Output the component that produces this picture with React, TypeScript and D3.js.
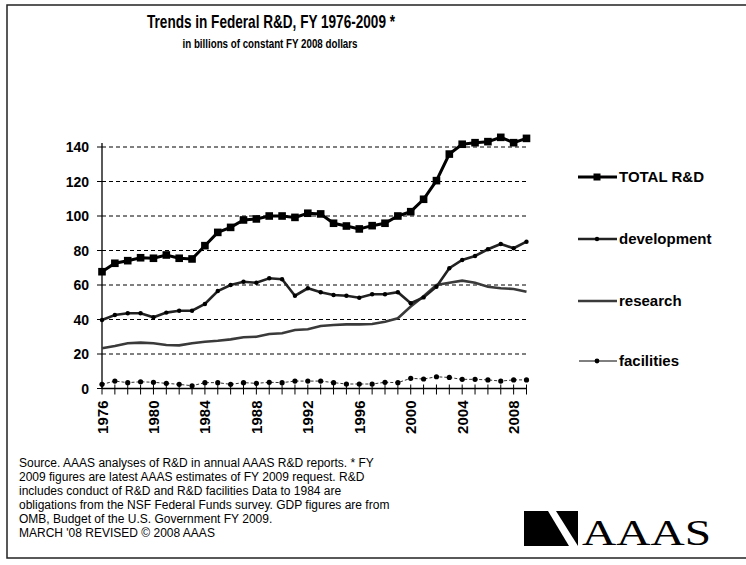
import * as d3 from "d3";

const years = [1976, 1977, 1978, 1979, 1980, 1981, 1982, 1983, 1984, 1985, 1986, 1987, 1988, 1989, 1990, 1991, 1992, 1993, 1994, 1995, 1996, 1997, 1998, 1999, 2000, 2001, 2002, 2003, 2004, 2005, 2006, 2007, 2008, 2009];

const totalRD = [67.7, 72.6, 74.1, 75.8, 75.5, 77.4, 75.5, 75.1, 82.8, 90.5, 93.4, 97.7, 98.3, 100, 100, 99.2, 101.6, 101.2, 95.8, 94.2, 92.5, 94.4, 95.8, 100, 102.5, 109.7, 120.5, 135.9, 141.6, 142.5, 143.1, 145.6, 142.5, 145];
const development = [39.7, 42.6, 43.6, 43.6, 41.3, 44, 45.1, 45.1, 49, 56.5, 60, 61.9, 61.3, 63.9, 63.3, 53.8, 58.1, 55.8, 54.2, 53.8, 52.6, 54.6, 54.6, 55.8, 49.4, 52.8, 59, 69.7, 74.5, 76.8, 80.7, 83.8, 81.3, 85.1];
const research = [23.3, 24.6, 26.2, 26.6, 26.2, 25.2, 25, 26.2, 27.1, 27.7, 28.5, 29.7, 30, 31.6, 32, 33.9, 34.3, 36.2, 36.8, 37.2, 37.2, 37.4, 38.7, 40.7, 47.5, 53.5, 60, 61.3, 62.5, 61.3, 59, 58.1, 57.7, 56.1];
const facilities = [2.4, 4.3, 3.4, 3.9, 3.6, 3, 2.4, 1.6, 3.4, 3.4, 2.4, 3.4, 3, 3.6, 3.4, 4.3, 4.3, 4.3, 3.4, 2.6, 2.6, 2.6, 3.6, 3.4, 5.9, 5.5, 6.8, 6.4, 5.3, 5.3, 5, 4.3, 5, 5];

const yTicks = [0, 20, 40, 60, 80, 100, 120, 140];
const xTickLabels = [1976, 1980, 1984, 1988, 1992, 1996, 2000, 2004, 2008];

const sourceLines = [
  "Source. AAAS analyses of R&D in annual AAAS R&D reports. * FY",
  "2009 figures are latest AAAS estimates of FY 2009 request. R&D",
  "includes conduct of R&D and R&D facilities  Data to 1984 are",
  "obligations from the NSF Federal Funds survey. GDP figures are from",
  "OMB, Budget of the U.S. Government FY 2009.",
  "MARCH '08 REVISED \u00A9 2008 AAAS",
];

const font = "'Liberation Sans', Arial, sans-serif";

export default function App() {
  const W = 746, H = 565;
  const x = d3.scaleLinear().domain([1976, 2009]).range([102, 526.5]);
  const y = d3.scaleLinear().domain([0, 140]).range([388.5, 147]);

  const line = (vals: number[]) =>
    d3.line<number>().x((_, i) => x(years[i])).y((v) => y(v))(vals) || "";

  return (
    <svg width={W} height={H} style={{ position: "absolute", left: 0, top: 0, background: "#fff" }} fontFamily={font}>
      <rect x={7} y={5} width={800} height={553} fill="#fff" stroke="#222" strokeWidth={1.5} />

      <text x={271} y={28} textAnchor="middle" fontSize={18.5} fontWeight="bold" textLength={248} lengthAdjust="spacingAndGlyphs">
        Trends in Federal R&amp;D, FY 1976-2009 *
      </text>
      <text x={270} y={48} textAnchor="middle" fontSize={12.5} fontWeight="bold" textLength={175} lengthAdjust="spacingAndGlyphs">
        in billions of constant FY 2008 dollars
      </text>

      {/* grid */}
      {yTicks.filter((t) => t > 0).map((t) => (
        <line key={t} x1={x(1976)} x2={x(2009)} y1={y(t)} y2={y(t)} stroke="#000" strokeDasharray="4,3" strokeWidth={1} />
      ))}

      {/* y axis */}
      <line x1={x(1976)} x2={x(1976)} y1={y(140) - 4} y2={y(0)} stroke="#000" strokeWidth={1.3} />
      {yTicks.map((t) => (
        <g key={t}>
          <line x1={x(1976) - 5} x2={x(1976)} y1={y(t)} y2={y(t)} stroke="#000" />
          <text x={89} y={y(t) + 5} textAnchor="end" fontSize={14} fontWeight="bold">{t}</text>
        </g>
      ))}

      {/* x axis */}
      <line x1={x(1976)} x2={x(2009)} y1={y(0)} y2={y(0)} stroke="#000" strokeWidth={1.3} />
      {years.map((yr) => (
        <line key={yr} x1={x(yr)} x2={x(yr)} y1={y(0) - 4} y2={y(0) + 6} stroke="#000" strokeWidth={1} />
      ))}
      {xTickLabels.map((yr) => (
        <text key={yr} transform={`translate(${x(yr) + 5.5},${y(0) + 12}) rotate(-90)`} textAnchor="end" fontSize={15} fontWeight="bold">
          {yr}
        </text>
      ))}

      {/* series */}
      <path d={line(research)} fill="none" stroke="#3a3a3a" strokeWidth={2.6} />
      <path d={line(development)} fill="none" stroke="#222" strokeWidth={2.6} />
      {development.map((v, i) => (
        <circle key={i} cx={x(years[i])} cy={y(v)} r={2.2} fill="#000" />
      ))}
      <path d={line(facilities)} fill="none" stroke="#333" strokeWidth={1} strokeDasharray="3,2" />
      {facilities.map((v, i) => (
        <circle key={i} cx={x(years[i])} cy={y(v)} r={2.6} fill="#000" />
      ))}
      <path d={line(totalRD)} fill="none" stroke="#000" strokeWidth={3} />
      {totalRD.map((v, i) => (
        <rect key={i} x={x(years[i]) - 3.8} y={y(v) - 3.8} width={7.6} height={7.6} fill="#000" />
      ))}

      {/* legend */}
      <g fontSize={15} fontWeight="bold">
        <line x1={578} x2={617} y1={177} y2={177} stroke="#000" strokeWidth={3} />
        <rect x={593.5} y={173.5} width={7} height={7} fill="#000" />
        <text x={619} y={182}>TOTAL R&amp;D</text>

        <line x1={578} x2={617} y1={239} y2={239} stroke="#222" strokeWidth={2.6} />
        <circle cx={597} cy={239} r={2.2} fill="#000" />
        <text x={619} y={244}>development</text>

        <line x1={578} x2={617} y1={301} y2={301} stroke="#3a3a3a" strokeWidth={2.6} />
        <text x={619} y={306}>research</text>

        <line x1={579} x2={617} y1={361} y2={361} stroke="#000" strokeWidth={1} />
        <circle cx={597} cy={361} r={2.4} fill="#000" />
        <text x={619} y={366}>facilities</text>
      </g>

      {/* source note */}
      <g fontSize={12}>
        {sourceLines.map((s, i) => (
          <text key={i} x={19} y={467 + i * 14}>{s}</text>
        ))}
      </g>

      {/* logo */}
      <path d="M524,511 L548,511 L569,546 L524,546 Z" fill="#000" />
      <path d="M556,511 L578,511 L578,546 Z" fill="#000" />
      <text x={582} y={545} fontFamily="'Liberation Serif', 'Times New Roman', serif" fontSize={36} textLength={129} lengthAdjust="spacingAndGlyphs">
        AAAS
      </text>
    </svg>
  );
}
